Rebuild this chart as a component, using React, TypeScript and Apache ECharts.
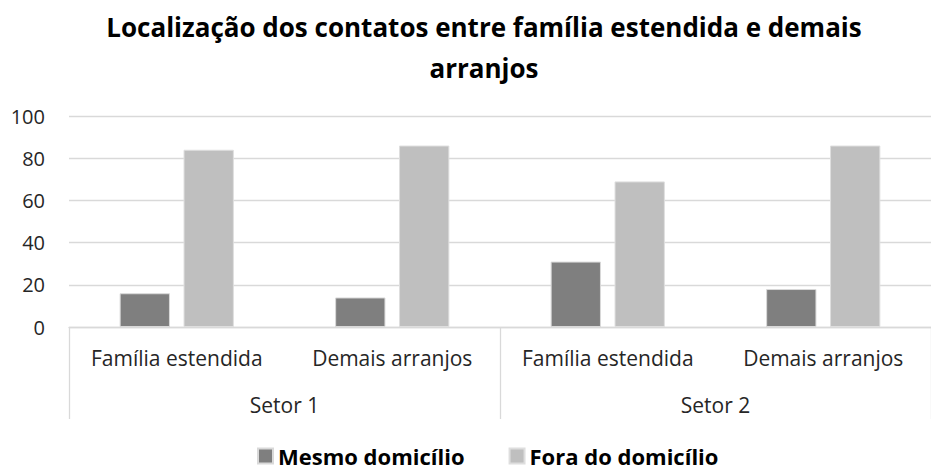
import React, { useEffect, useRef } from "react";
import * as echarts from "echarts";

const titleText = "Localização dos contatos entre família estendida e demais\narranjos";
const categories = ["Família estendida", "Demais arranjos", "Família estendida", "Demais arranjos"];
const groups = ["Setor 1", "Setor 2"];
const seriesNames = ["Mesmo domicílio", "Fora do domicílio"];
const mesmoDomicilio = [16, 14, 31, 18];
const foraDomicilio = [84, 86, 69, 86];
const yTicks = { min: 0, max: 100, interval: 20 };

const FONT = "'Open Sans', 'Noto Sans', sans-serif";

export default function App() {
  const ref = useRef<HTMLDivElement>(null);
  useEffect(() => {
    document.body.style.margin = "0";
    document.body.style.overflow = "hidden";
    if (!ref.current) return;
    const chart = echarts.init(ref.current, undefined, { renderer: "svg" });
    chart.setOption({
      animation: false,
      backgroundColor: "#ffffff",
      graphic: [
        {
          type: "text",
          x: 484,
          y: 6,
          style: {
            text: titleText,
            textAlign: "center",
            textVerticalAlign: "top",
            fontFamily: FONT,
            fontWeight: "bold",
            fontSize: 26,
            lineHeight: 41,
            fill: "#000000",
          },
        },
      ],
      legend: {
        data: seriesNames,
        left: 257,
        top: 445,
        padding: 0,
        icon: "rect",
        itemWidth: 15,
        itemHeight: 15,
        itemGap: 44,
        textStyle: {
          fontFamily: FONT,
          fontWeight: "bold",
          fontSize: 22,
          color: "#000000",
          lineHeight: 22,
        },
      },
      grid: { left: 69, top: 116, width: 876, bottom: 141 },
      xAxis: [
        {
          type: "category",
          data: categories,
          position: "bottom",
          axisLine: { show: true, lineStyle: { color: "#d9d9d9", width: 1.3 } },
          axisTick: { show: false },
          axisLabel: {
            margin: 20,
            fontFamily: FONT,
            fontSize: 21,
            color: "#262626",
            interval: 0,
          },
        },
        {
          type: "category",
          data: groups,
          position: "bottom",
          axisLine: { show: false },
          axisTick: { show: true, length: 92, lineStyle: { color: "#d9d9d9", width: 1.3 } },
          axisLabel: {
            margin: 67,
            fontFamily: FONT,
            fontSize: 21,
            color: "#262626",
          },
          splitLine: { show: false },
        },
      ],
      yAxis: {
        type: "value",
        min: yTicks.min,
        max: yTicks.max,
        interval: yTicks.interval,
        axisLine: { show: false },
        axisTick: { show: false },
        axisLabel: {
          margin: 24,
          fontFamily: FONT,
          fontSize: 20,
          color: "#262626",
        },
        splitLine: { lineStyle: { color: "#d9d9d9", width: 1.3 } },
      },
      series: [
        {
          name: seriesNames[0],
          type: "bar",
          xAxisIndex: 0,
          data: mesmoDomicilio,
          barGap: "27%",
          barCategoryGap: "47%",
          itemStyle: { color: "#7f7f7f", borderColor: "#d9d9d9", borderWidth: 1 },
        },
        {
          name: seriesNames[1],
          type: "bar",
          xAxisIndex: 0,
          data: foraDomicilio,
          barGap: "27%",
          barCategoryGap: "47%",
          itemStyle: { color: "#bfbfbf", borderColor: "#dedede", borderWidth: 1 },
        },
      ],
    });
    return () => chart.dispose();
  }, []);
  return <div ref={ref} style={{ width: 931, height: 468 }} />;
}
